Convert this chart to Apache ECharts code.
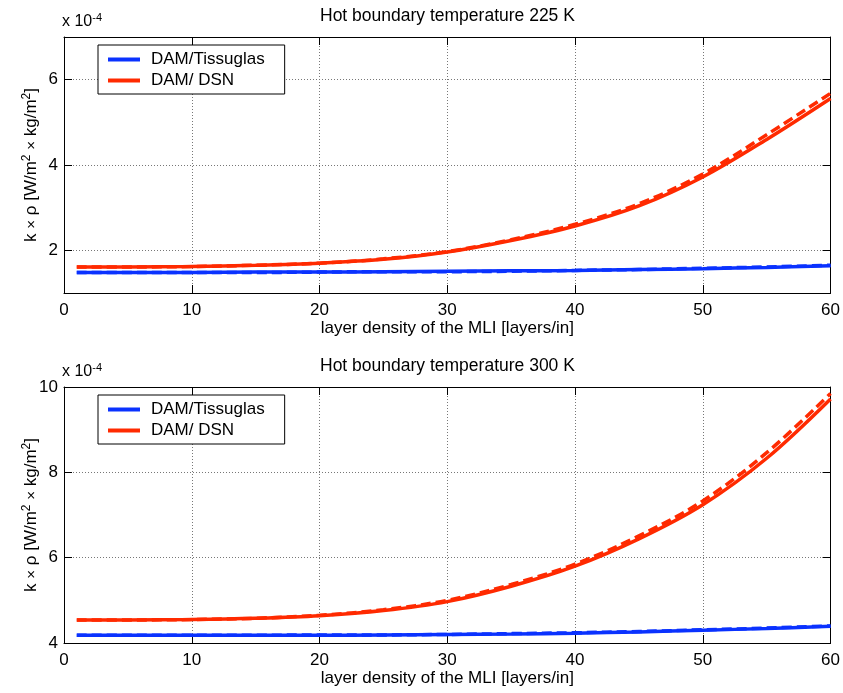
<!DOCTYPE html>
<html>
<head>
<meta charset="utf-8">
<script src="https://cdn.jsdelivr.net/npm/echarts@6/dist/echarts.min.js"></script>
<style>html,body{margin:0;padding:0;background:#fff}#c{width:843px;height:693px}</style>
</head>
<body>
<div id="c"></div>
<script>
// layer density [layers/in]
const xs = [1, 5, 10, 15, 20, 25, 30, 35, 40, 45, 50, 55, 60];

// Hot boundary 225 K  (x 1e-4)
const top_tiss_solid  = [1.48, 1.48, 1.48, 1.49, 1.49, 1.50, 1.51, 1.52, 1.53, 1.55, 1.57, 1.60, 1.64];
const top_tiss_dashed = [1.48, 1.48, 1.48, 1.48, 1.49, 1.50, 1.50, 1.51, 1.53, 1.55, 1.58, 1.61, 1.65];
const top_dsn_solid   = [1.61, 1.61, 1.62, 1.65, 1.70, 1.79, 1.96, 2.23, 2.57, 3.04, 3.72, 4.60, 5.56];
const top_dsn_dashed  = [1.61, 1.61, 1.62, 1.65, 1.70, 1.80, 1.97, 2.25, 2.61, 3.09, 3.79, 4.71, 5.68];

// Hot boundary 300 K  (x 1e-4)
const bot_tiss_solid  = [4.18, 4.18, 4.18, 4.18, 4.18, 4.19, 4.20, 4.21, 4.23, 4.26, 4.30, 4.34, 4.39];
const bot_tiss_dashed = [4.18, 4.18, 4.18, 4.18, 4.19, 4.19, 4.20, 4.22, 4.24, 4.27, 4.31, 4.35, 4.40];
const bot_dsn_solid   = [4.54, 4.54, 4.55, 4.58, 4.64, 4.76, 4.97, 5.33, 5.80, 6.44, 7.24, 8.33, 9.72];
const bot_dsn_dashed  = [4.54, 4.54, 4.55, 4.58, 4.65, 4.78, 5.00, 5.37, 5.85, 6.51, 7.33, 8.46, 9.85];

const xTicks = [0, 10, 20, 30, 40, 50, 60];
const topYTicks = [2, 4, 6];
const botYTicks = [4, 6, 8, 10];

const titles = ['Hot boundary temperature 225 K', 'Hot boundary temperature 300 K'];
const xName = 'layer density of the MLI [layers/in]';
const yName = 'k {x|×} ρ [W/m{s|2} {x|×} kg/m{s|2}]';
const names = ['DAM/Tissuglas', 'DAM/ DSN'];

const BLUE = '#0a32ff';
const RED = '#ff2a00';
const FONT = 'Liberation Sans, Arial, sans-serif';

const pairs = a => xs.map((x, i) => [x, a[i]]);

function xAx(gi, pos, main) {
  return {
    type: 'value', gridIndex: gi, position: pos, min: 0, max: 60, interval: 10,
    name: main ? xName : '', nameLocation: 'middle', nameGap: 27,
    nameTextStyle: { fontFamily: FONT, fontSize: 17, color: '#000' },
    axisLine: { show: true, onZero: false, lineStyle: { color: '#000', width: 1 } },
    axisTick: { show: true, inside: true, length: 8, customValues: xTicks, lineStyle: { color: '#000' } },
    axisLabel: { show: main, margin: 9, customValues: xTicks, fontFamily: FONT, fontSize: 17, color: '#000' },
    splitLine: { show: main, lineStyle: { color: '#777', type: [1, 2], width: 1 } }
  };
}
function yAx(gi, pos, main, mn, mx, ticks) {
  return {
    type: 'value', gridIndex: gi, position: pos, min: mn, max: mx, interval: 1,
    name: main ? yName : '', nameLocation: 'middle', nameGap: 22, nameMoveOverlap: false,
    nameTextStyle: {
      fontFamily: FONT, fontSize: 17, color: '#000',
      rich: {
        s: { fontFamily: FONT, fontSize: 12, color: '#000', verticalAlign: 'top', padding: [0, 0, 9, 0] },
        x: { fontFamily: FONT, fontSize: 15, color: '#000' }
      }
    },
    axisLine: { show: true, onZero: false, lineStyle: { color: '#000', width: 1 } },
    axisTick: { show: true, inside: true, length: 8, customValues: ticks, lineStyle: { color: '#000' } },
    axisLabel: { show: main, margin: 6, customValues: ticks, fontFamily: FONT, fontSize: 17, color: '#000' },
    splitLine: { show: main, lineStyle: { color: '#777', type: [1, 2], width: 1 } }
  };
}
function ser(name, data, xi, yi, color, dashed) {
  return {
    type: 'line', name: name, xAxisIndex: xi, yAxisIndex: yi, data: pairs(data),
    smooth: 0.35, symbol: 'none', silent: true,
    lineStyle: { color: color, width: 3.5, type: dashed ? [10, 5] : 'solid' },
    itemStyle: { color: color }
  };
}
function legend(top) {
  return {
    data: names.map(n => ({ name: n, icon: 'rect' })),
    orient: 'vertical', left: 98, top: top, itemWidth: 32, itemHeight: 4, itemGap: 4,
    padding: [6, 20, 5, 10], borderColor: '#000', borderWidth: 1, backgroundColor: '#fff',
    textStyle: { fontFamily: FONT, fontSize: 17, color: '#000', lineHeight: 17, padding: [0, 0, 0, 6] },
    selectedMode: false
  };
}
const expRich = {
  a: { fontFamily: FONT, fontSize: 16, fontWeight: 'normal', color: '#000' },
  s: { fontFamily: FONT, fontSize: 11, fontWeight: 'normal', color: '#000', verticalAlign: 'top', padding: [0, 0, 8, 0] }
};
const titleStyle = { fontFamily: FONT, fontSize: 17.5, fontWeight: 'normal', color: '#000' };

const option = {
  animation: false,
  backgroundColor: '#fff',
  title: [
    { text: titles[0], left: 320, top: 7, textStyle: titleStyle, padding: 0 },
    { text: titles[1], left: 320, top: 357, textStyle: titleStyle, padding: 0 },
    { text: '{a|x 10}{s|-4}', left: 62, top: 12, padding: 0, textStyle: { fontWeight: 'normal', rich: expRich } },
    { text: '{a|x 10}{s|-4}', left: 62, top: 362, padding: 0, textStyle: { fontWeight: 'normal', rich: expRich } }
  ],
  legend: [legend(45), legend(395)],
  grid: [
    { left: 64, top: 37, width: 768, height: 256, show: false },
    { left: 64, top: 387, width: 768, height: 256, show: false }
  ],
  xAxis: [xAx(0, 'bottom', true), xAx(0, 'top', false), xAx(1, 'bottom', true), xAx(1, 'top', false)],
  yAxis: [
    yAx(0, 'left', true, 1, 7, topYTicks), yAx(0, 'right', false, 1, 7, topYTicks),
    yAx(1, 'left', true, 4, 10, botYTicks), yAx(1, 'right', false, 4, 10, botYTicks)
  ],
  series: [
    ser(names[0], top_tiss_solid, 0, 0, BLUE, false),
    ser(names[0] + ' ', top_tiss_dashed, 0, 0, BLUE, true),
    ser(names[1], top_dsn_solid, 0, 0, RED, false),
    ser(names[1] + ' ', top_dsn_dashed, 0, 0, RED, true),
    ser(names[0], bot_tiss_solid, 2, 2, BLUE, false),
    ser(names[0] + ' ', bot_tiss_dashed, 2, 2, BLUE, true),
    ser(names[1], bot_dsn_solid, 2, 2, RED, false),
    ser(names[1] + ' ', bot_dsn_dashed, 2, 2, RED, true)
  ]
};
const chart = echarts.init(document.getElementById('c'), null, { renderer: 'canvas' });
chart.setOption(option);
</script>
</body>
</html>
